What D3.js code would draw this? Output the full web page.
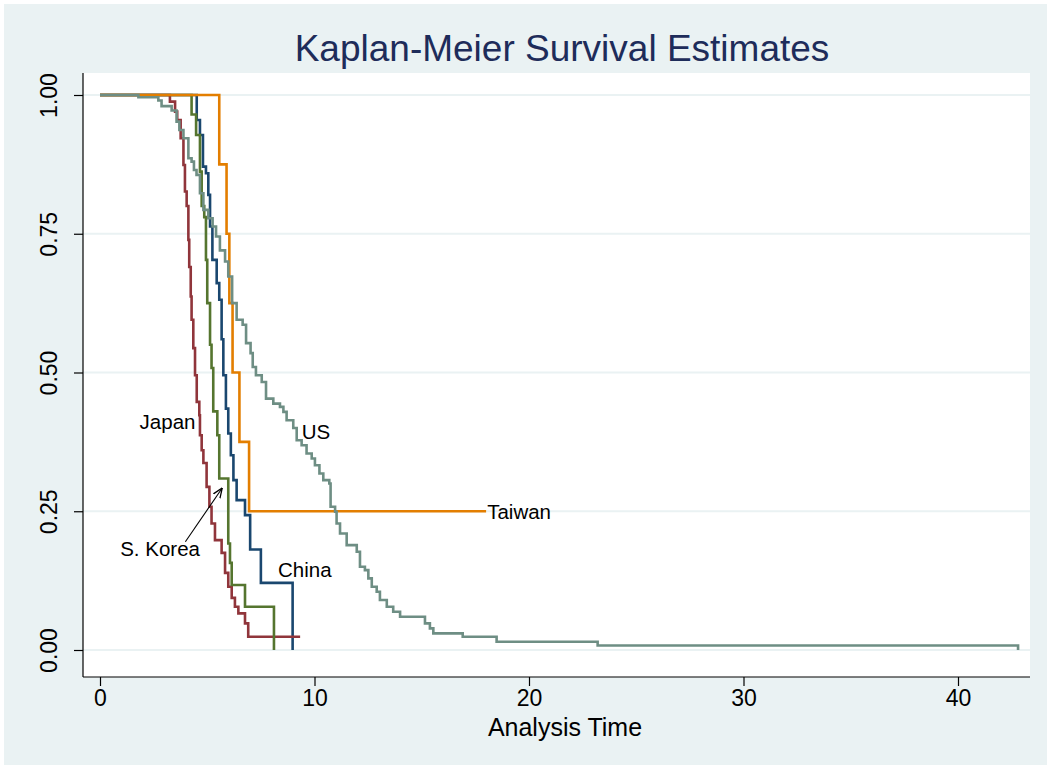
<!DOCTYPE html>
<html>
<head>
<meta charset="utf-8">
<script src="https://cdn.jsdelivr.net/npm/d3@7"></script>
<style>
  body { margin: 0; background: #fff; }
  svg { display: block; font-family: "Liberation Sans", Arial, sans-serif; }
</style>
</head>
<body>
<svg id="chart" width="1051" height="769"></svg>
<script>
// survival curves: time of each drop, survival after it
var chinaT = [4.51, 4.66, 4.8, 4.94, 5.05, 5.13, 5.24, 5.44, 5.56, 5.67, 5.75, 5.87, 5.98, 6.1, 6.22, 6.37, 6.76, 7.0, 7.5, 8.98];
var chinaS = [0.955, 0.928, 0.871, 0.859, 0.82, 0.763, 0.703, 0.661, 0.631, 0.56, 0.495, 0.435, 0.39, 0.351, 0.306, 0.27, 0.243, 0.181, 0.121, 0];
var chinaEnd = 8.98;

var japanT = [3.26, 3.5, 3.6, 3.76, 3.89, 3.96, 4.04, 4.12, 4.16, 4.23, 4.27, 4.35, 4.43, 4.51, 4.63, 4.66, 4.74, 4.82, 4.97, 5.1, 5.2, 5.36, 5.67, 5.83, 5.98, 6.14, 6.29, 6.45, 6.76, 6.91];
var japanS = [0.988, 0.97, 0.955, 0.922, 0.874, 0.826, 0.8, 0.739, 0.69, 0.637, 0.595, 0.544, 0.495, 0.447, 0.423, 0.387, 0.36, 0.337, 0.294, 0.258, 0.228, 0.198, 0.175, 0.139, 0.114, 0.094, 0.078, 0.066, 0.048, 0.024];
var japanEnd = 9.33;

var koreaT = [4.27, 4.48, 4.66, 4.74, 4.86, 4.94, 5.0, 5.13, 5.2, 5.28, 5.47, 5.56, 5.98, 6.06, 6.14, 6.76, 8.11];
var koreaS = [0.965, 0.928, 0.862, 0.8, 0.78, 0.703, 0.625, 0.55, 0.508, 0.43, 0.387, 0.309, 0.192, 0.157, 0.117, 0.078, 0];
var koreaEnd = 8.11;

var taiwanT = [5.56, 5.9, 6.03, 6.18, 6.5, 6.95];
var taiwanS = [0.875, 0.75, 0.625, 0.5, 0.375, 0.25];
var taiwanEnd = 18;

var usT = [1.79, 2.72, 2.87, 3.34, 3.57, 3.7, 3.89, 4.12, 4.27, 4.38, 4.5, 4.66, 4.82, 5.05, 5.25, 5.41, 5.59, 5.83, 5.98, 6.16, 6.37, 6.65, 6.81, 7.02, 7.12, 7.27, 7.54, 7.74, 8.08, 8.39, 8.55, 8.7, 9.01, 9.17, 9.4, 9.63, 9.87, 10.02, 10.23, 10.41, 10.69, 10.75, 10.96, 11.03, 11.19, 11.5, 11.97, 12.12, 12.35, 12.51, 12.67, 12.9, 13.05, 13.37, 13.67, 13.99, 15.15, 15.38, 15.54, 16.91, 18.49, 23.2, 42.8];
var usS = [0.996, 0.99, 0.98, 0.972, 0.952, 0.937, 0.922, 0.886, 0.88, 0.865, 0.856, 0.823, 0.793, 0.778, 0.763, 0.745, 0.72, 0.7, 0.673, 0.625, 0.595, 0.586, 0.553, 0.535, 0.51, 0.495, 0.483, 0.453, 0.444, 0.438, 0.429, 0.414, 0.4, 0.378, 0.369, 0.354, 0.345, 0.333, 0.318, 0.306, 0.3, 0.258, 0.249, 0.228, 0.21, 0.189, 0.177, 0.15, 0.144, 0.129, 0.114, 0.105, 0.09, 0.078, 0.069, 0.06, 0.048, 0.039, 0.03, 0.024, 0.015, 0.008, 0];
var usEnd = 42.8;

var xTicks = [0, 10, 20, 30, 40];
var yTicks = [0, 0.25, 0.5, 0.75, 1];

var series = [
  {name: "China", t: chinaT, s: chinaS, end: chinaEnd, color: "#1a476f"},
  {name: "Japan", t: japanT, s: japanS, end: japanEnd, color: "#90353b"},
  {name: "S. Korea", t: koreaT, s: koreaS, end: koreaEnd, color: "#55752f"},
  {name: "Taiwan", t: taiwanT, s: taiwanS, end: taiwanEnd, color: "#e37e00"},
  {name: "US", t: usT, s: usS, end: usEnd, color: "#6e8e84"}
];

var svg = d3.select("#chart");
var W = 1051, H = 769;

svg.append("rect").attr("width", W).attr("height", H).attr("fill", "#ffffff");
svg.append("rect").attr("x", 4).attr("y", 4).attr("width", W - 8).attr("height", H - 8)
  .attr("fill", "#eaf2f3");

var x = d3.scaleLinear().domain([0, 40]).range([100, 958]);
var y = d3.scaleLinear().domain([0, 1]).range([650, 95]);

var plotL = 83, plotR = 1030, plotT = 73, plotB = 677;

svg.append("rect")
  .attr("x", plotL).attr("y", plotT)
  .attr("width", plotR - plotL).attr("height", plotB - plotT)
  .attr("fill", "#ffffff");

// grid
svg.append("g").selectAll("line").data(yTicks).enter().append("line")
  .attr("x1", plotL).attr("x2", plotR)
  .attr("y1", function (d) { return y(d); })
  .attr("y2", function (d) { return y(d); })
  .attr("stroke", "#eaf2f3").attr("stroke-width", 2);

// title
svg.append("text")
  .attr("x", 562).attr("y", 61)
  .attr("text-anchor", "middle")
  .attr("font-size", 37)
  .attr("fill", "#1e2c5a")
  .text("Kaplan-Meier Survival Estimates");

// curves
var line = d3.line()
  .x(function (d) { return x(d[0]); })
  .y(function (d) { return y(d[1]); })
  .curve(d3.curveStepAfter);

series.forEach(function (sr) {
  var pts = [[0, 1]];
  sr.t.forEach(function (t, i) { pts.push([t, sr.s[i]]); });
  var last = sr.s[sr.s.length - 1];
  if (sr.end > sr.t[sr.t.length - 1]) pts.push([sr.end, last]);
  svg.append("path")
    .attr("d", line(pts))
    .attr("fill", "none")
    .attr("stroke", sr.color)
    .attr("stroke-width", 2.6)
    .attr("stroke-linejoin", "miter");
});

// axes
var xAxis = d3.axisBottom(x).tickValues(xTicks).tickSize(9).tickSizeOuter(0);
var gx = svg.append("g").attr("transform", "translate(0," + plotB + ")").call(xAxis);
gx.select(".domain").remove();
gx.append("line").attr("x1", plotL).attr("x2", plotR).attr("stroke", "#000").attr("stroke-width", 1.2);
gx.selectAll(".tick line").attr("stroke", "#000").attr("stroke-width", 1.2);
gx.selectAll(".tick text")
  .attr("font-size", 23).attr("fill", "#000")
  .attr("font-family", "Liberation Sans, Arial, sans-serif")
  .attr("y", 13);

var yAxis = d3.axisLeft(y).tickValues(yTicks).tickSize(9).tickFormat(d3.format(".2f"));
var gy = svg.append("g").attr("transform", "translate(" + plotL + ",0)").call(yAxis);
gy.select(".domain").remove();
gy.append("line").attr("y1", plotT).attr("y2", plotB).attr("stroke", "#000").attr("stroke-width", 1.2);
gy.selectAll(".tick line").attr("stroke", "#000").attr("stroke-width", 1.2);
gy.selectAll(".tick text")
  .attr("font-size", 23).attr("fill", "#000")
  .attr("font-family", "Liberation Sans, Arial, sans-serif")
  .attr("x", null).attr("dy", null)
  .attr("text-anchor", "middle")
  .attr("transform", "translate(-26,0) rotate(-90)");

svg.append("text")
  .attr("x", 565).attr("y", 736)
  .attr("text-anchor", "middle")
  .attr("font-size", 25)
  .attr("fill", "#000")
  .text("Analysis Time");

// curve labels
var labels = [
  {text: "Japan", t: 4.45, s: 0.398, anchor: "end"},
  {text: "US", t: 9.4, s: 0.38, anchor: "start"},
  {text: "Taiwan", t: 18.05, s: 0.236, anchor: "start"},
  {text: "China", t: 8.3, s: 0.131, anchor: "start"},
  {text: "S. Korea", t: 4.66, s: 0.17, anchor: "end"}
];
svg.append("g").selectAll("text").data(labels).enter().append("text")
  .attr("x", function (d) { return x(d.t); })
  .attr("y", function (d) { return y(d.s); })
  .attr("text-anchor", function (d) { return d.anchor; })
  .attr("font-size", 20.5)
  .attr("fill", "#000")
  .text(function (d) { return d.text; });

// arrow from S. Korea label to its curve
svg.append("defs").append("marker")
  .attr("id", "arr").attr("viewBox", "0 0 10 10")
  .attr("refX", 10).attr("refY", 5)
  .attr("markerWidth", 9).attr("markerHeight", 9)
  .attr("orient", "auto")
  .append("path").attr("d", "M0,1 L10,5 L0,9").attr("fill", "none").attr("stroke", "#000").attr("stroke-width", 1.3);

svg.append("line")
  .attr("x1", x(3.98)).attr("y1", y(0.195))
  .attr("x2", x(5.7)).attr("y2", y(0.292))
  .attr("stroke", "#000").attr("stroke-width", 1.1)
  .attr("marker-end", "url(#arr)");
</script>
</body>
</html>
